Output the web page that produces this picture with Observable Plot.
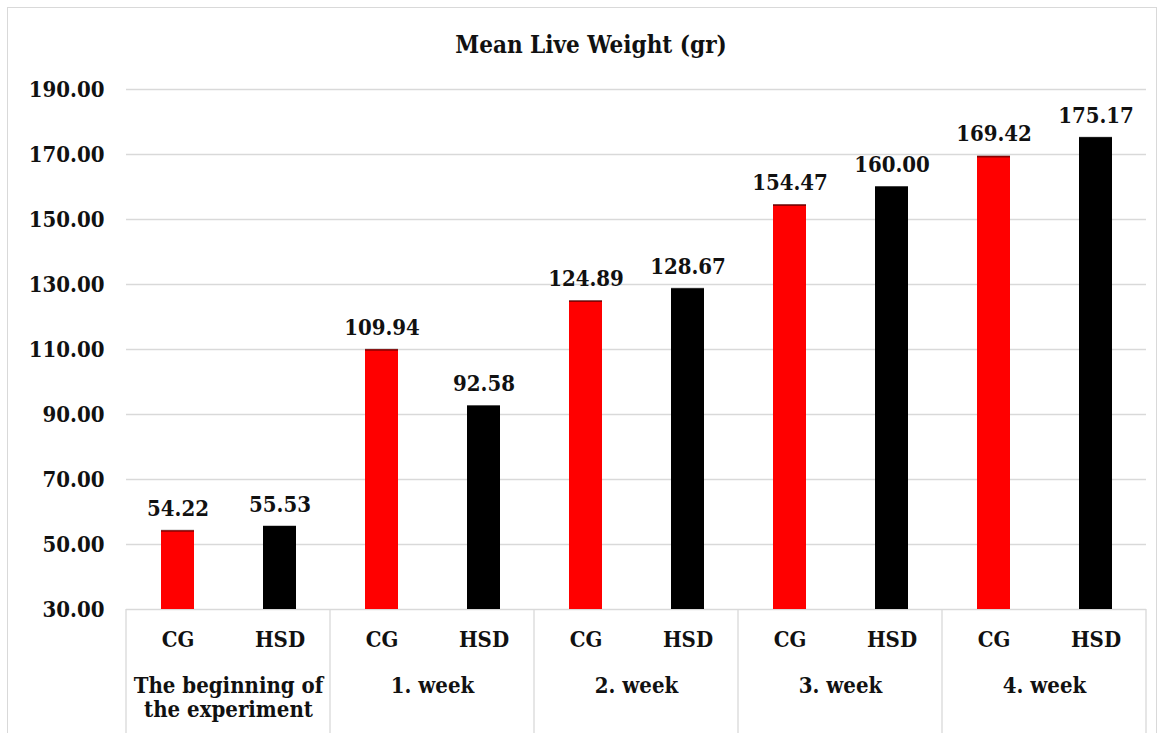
<!DOCTYPE html>
<html><head><meta charset="utf-8">
<script src="https://cdn.jsdelivr.net/npm/d3@7"></script>
<script src="https://cdn.jsdelivr.net/npm/@observablehq/plot@0.6"></script>
<style>
body{margin:0;background:#fff;}
#wrap{position:relative;width:1161px;height:733px;overflow:hidden;font-family:"DejaVu Serif",serif;}
#border{position:absolute;left:7px;top:7px;width:1150px;height:740px;border:1px solid #d9d9d9;box-sizing:border-box;}
#chart{position:absolute;left:0;top:0;}
#title{position:absolute;top:30px;left:0;width:1182px;text-align:center;font-weight:bold;font-size:24px;font-stretch:condensed;color:#111;}
#chart svg text{font-weight:bold;font-stretch:condensed;}
</style></head><body>
<div id="wrap"><div id="border"></div><div id="chart"></div><div id="title">Mean Live Weight (gr)</div></div>
<script>
const groups = ["The beginning of\nthe experiment", "1. week", "2. week", "3. week", "4. week"];
const treatments = ["CG", "HSD"];
const colors = ["#ff0000", "#000000"];
const cgValues = [54.22, 109.94, 124.89, 154.47, 169.42];
const hsdValues = [55.53, 92.58, 128.67, 160.00, 175.17];
const yTicks = [30, 50, 70, 90, 110, 130, 150, 170, 190];

const data = groups.flatMap((g, i) => [
  {group: g, treatment: treatments[0], value: cgValues[i]},
  {group: g, treatment: treatments[1], value: hsdValues[i]}
]);

const plot = Plot.plot({
  width: 1161, height: 733,
  marginTop: 89, marginBottom: 124, marginLeft: 124, marginRight: 13,
  style: {fontFamily: "DejaVu Serif", fontSize: "22px", color: "#111", background: "transparent", overflow: "visible"},
  fx: {domain: groups, padding: 0, label: null, axis: null},
  x: {domain: treatments, paddingInner: 0.68, paddingOuter: 0.34, label: null, axis: null},
  y: {domain: [yTicks[0], yTicks[yTicks.length - 1]], label: null, axis: null},
  color: {domain: treatments, range: colors},
  marks: [
    Plot.gridY(yTicks, {stroke: "#d9d9d9", strokeOpacity: 1, strokeWidth: 1.3}),
    Plot.barY(data, {fx: "group", x: "treatment", y1: yTicks[0], y2: "value", fill: "treatment"}),
    Plot.tickY(data, {fx: "group", x: "treatment", y: "value", stroke: "#000", strokeWidth: 2, strokeOpacity: 0.45}),
    Plot.text(data, {fx: "group", x: "treatment", y: "value", text: d => d.value.toFixed(2), lineAnchor: "bottom", dy: -15, fontSize: 22, fill: "#111"}),
    Plot.axisY(yTicks, {tickSize: 0, tickPadding: 22, tickFormat: d => d.toFixed(2), fontSize: 22, label: null}),
    Plot.axisX({tickSize: 0, tickPadding: 22, fontSize: 22, label: null}),
    Plot.axisFx({anchor: "bottom", tickSize: 0, tickPadding: 66, fontSize: 22, lineHeight: 1.1, label: null})
  ]
});
document.getElementById("chart").appendChild(plot);

// group separators below the axis, from the fx band scale
const fxs = plot.scale("fx");
const yScale = plot.scale("y");
const y0 = yScale.apply(yTicks[0]);
const bounds = fxs.domain.map(d => fxs.apply(d));
bounds.push(fxs.apply(fxs.domain[fxs.domain.length - 1]) + fxs.bandwidth);
d3.select(plot).append("g")
  .selectAll("line").data(bounds).join("line")
  .attr("x1", d => d).attr("x2", d => d)
  .attr("y1", y0).attr("y2", 733)
  .attr("stroke", "#d9d9d9").attr("stroke-width", 1.3);
</script>
</body></html>
